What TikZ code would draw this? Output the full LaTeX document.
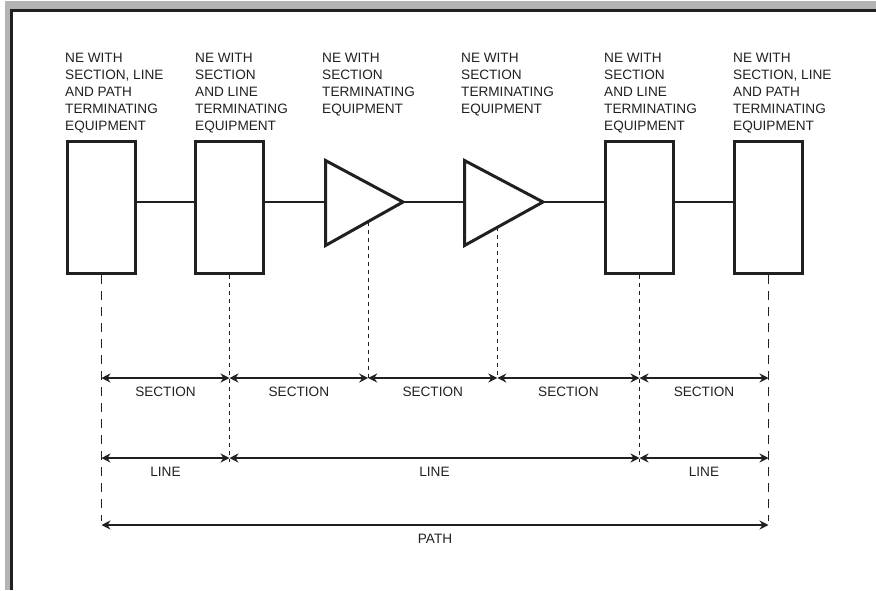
\documentclass[tikz,border=0pt]{standalone}
\usepackage{fontspec}
\setmainfont{Liberation Sans}
\usetikzlibrary{arrows.meta,calc}
\definecolor{ink}{HTML}{231F20}
\definecolor{framegray}{HTML}{B4B4B4}
\tikzset{
  nebox/.style={draw=ink, line width=3pt, minimum width=68pt, minimum height=132pt, inner sep=0pt},
  amp/.style={draw=ink, line width=3pt, line join=miter},
  wire/.style={draw=ink, line width=1.4pt},
  longdash/.style={draw=ink, line width=1.4pt, dash pattern=on 9pt off 7pt},
  shortdash/.style={draw=ink, line width=1.4pt, dash pattern=on 4pt off 4pt},
  span/.style={draw=ink, line width=1.4pt, {Stealth[length=9pt,width=9pt,inset=3pt]}-{Stealth[length=9pt,width=9pt,inset=3pt]}},
  toplabel/.style={anchor=north west, align=left, inner sep=0pt, font=\fontsize{13.6pt}{17pt}\selectfont, text=ink},
  spanlabel/.style={midway, anchor=base, yshift=-18pt, inner sep=0pt, font=\fontsize{13.6pt}{17pt}\selectfont, text=ink}
}
\begin{document}
\begin{tikzpicture}[x=1pt,y=-1pt]
\useasboundingbox (0,0) rectangle (876,590);
% frame
\fill[framegray] (5,1) rectangle (876,9);
\fill[framegray] (5,1) rectangle (10,590);
\fill[ink] (10,9) rectangle (876,12);
\fill[ink] (10,9) rectangle (13,590);

% labels
\node[toplabel] (l1) at (65,52.5) {NE WITH\\SECTION, LINE\\AND PATH\\TERMINATING\\EQUIPMENT};
\node[toplabel] (l2) at (195,52.5) {NE WITH\\SECTION\\AND LINE\\TERMINATING\\EQUIPMENT};
\node[toplabel] (l3) at (322,52.5) {NE WITH\\SECTION\\TERMINATING\\EQUIPMENT};
\node[toplabel] (l4) at (461,52.5) {NE WITH\\SECTION\\TERMINATING\\EQUIPMENT};
\node[toplabel] (l5) at (604,52.5) {NE WITH\\SECTION\\AND LINE\\TERMINATING\\EQUIPMENT};
\node[toplabel] (l6) at (733,52.5) {NE WITH\\SECTION, LINE\\AND PATH\\TERMINATING\\EQUIPMENT};

% boxes
\node[nebox] (b1) at (101.5,207.5) {};
\node[nebox] (b2) at (229.5,207.5) {};
\node[nebox] (b5) at (639.5,207.5) {};
\node[nebox] (b6) at (768.5,207.5) {};

% amplifiers
\coordinate (t1a) at (325.5,160.5);
\coordinate (t1b) at (325.5,245.5);
\coordinate (t1in) at (325.5,202);
\coordinate (t1out) at (403,202);
\coordinate (t2a) at (464.5,160.5);
\coordinate (t2b) at (464.5,245.5);
\coordinate (t2in) at (464.5,202);
\coordinate (t2out) at (543,202);
\draw[amp] (t1a) -- (t1out) -- (t1b) -- cycle;
\draw[amp] (t2a) -- (t2out) -- (t2b) -- cycle;

% wires
\draw[wire] ([yshift=5.5pt]b1.east) -- ([yshift=5.5pt]b2.west);
\draw[wire] ([yshift=5.5pt]b2.east) -- (t1in);
\draw[wire] (t1out) -- (t2in);
\draw[wire] (t2out) -- ([yshift=5.5pt]b5.west);
\draw[wire] ([yshift=5.5pt]b5.east) -- ([yshift=5.5pt]b6.west);

% reference points
\coordinate (d3) at ($(t1b)!0.551!(t1out)$);
\coordinate (d4) at ($(t2b)!0.418!(t2out)$);
\coordinate (s1) at (101.5,378);
\coordinate (s2) at (229.5,378);
\coordinate (s3) at (d3 |- s1);
\coordinate (s4) at (d4 |- s1);
\coordinate (s5) at (639.5,378);
\coordinate (s6) at (768.5,378);
\coordinate (n1) at (101.5,458);
\coordinate (n2) at (229.5,458);
\coordinate (n5) at (639.5,458);
\coordinate (n6) at (768.5,458);
\coordinate (p1) at (101.5,525);
\coordinate (p6) at (768.5,525);
\coordinate (e1) at (101.5,521);
\coordinate (e6) at (768.5,521);
\coordinate (e2) at (229.5,462);
\coordinate (e5) at (639.5,462);

% dashed drop lines
\draw[longdash] (b1.south) -- (e1);
\draw[longdash] (b6.south) -- (e6);
\draw[shortdash] (b2.south) -- (e2);
\draw[shortdash] (b5.south) -- (e5);
\draw[shortdash] (d3) -- (s3);
\draw[shortdash] (d4) -- (s4);

% sections
\draw[span] (s1) -- (s2) node[spanlabel] {SECTION};
\draw[span] (s2) -- (s3) node[spanlabel] {SECTION};
\draw[span] (s3) -- (s4) node[spanlabel] {SECTION};
\draw[span] (s4) -- (s5) node[spanlabel] {SECTION};
\draw[span] (s5) -- (s6) node[spanlabel] {SECTION};
% lines
\draw[span] (n1) -- (n2) node[spanlabel] {LINE};
\draw[span] (n2) -- (n5) node[spanlabel] {LINE};
\draw[span] (n5) -- (n6) node[spanlabel] {LINE};
% path
\draw[span] (p1) -- (p6) node[spanlabel] {PATH};
\end{tikzpicture}
\end{document}
